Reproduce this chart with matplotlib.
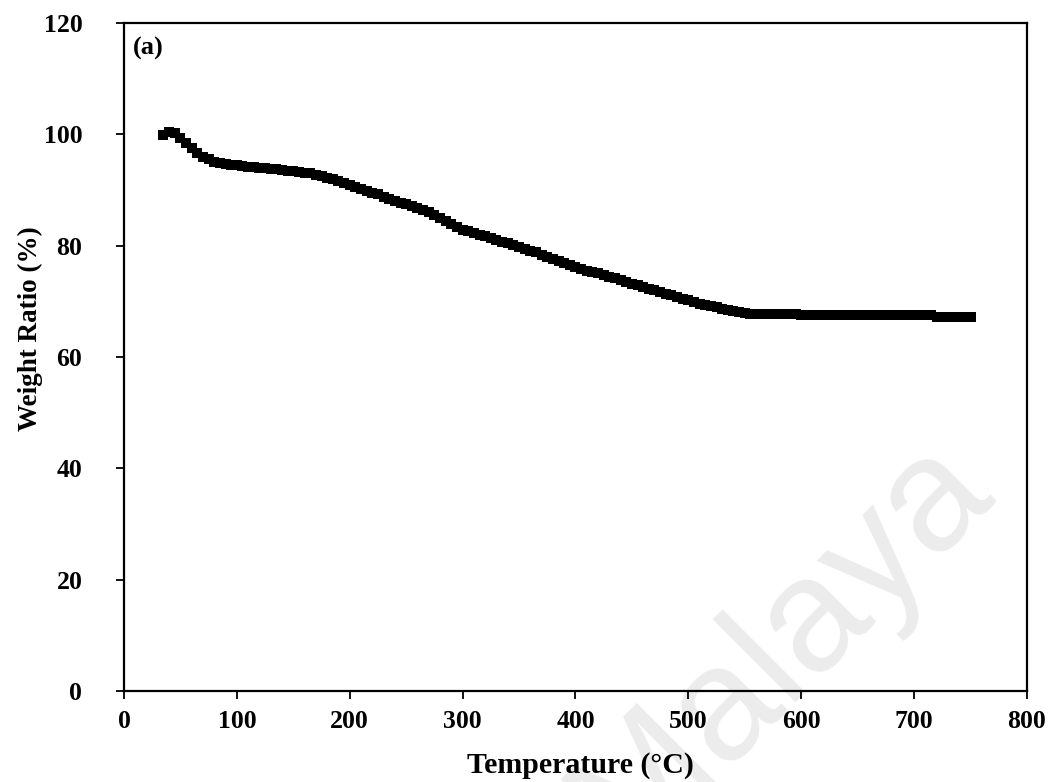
import matplotlib
matplotlib.use("Agg")
import matplotlib.pyplot as plt

# TGA curve: temperature (°C) vs remaining weight (%)
temperature = list(range(35, 751, 5))
weight_ratio = [
    99.8, 100.5, 100.2, 99.3, 98.4, 97.5, 96.6, 96.0, 95.5, 95.1,      # 35-80
    94.9, 94.7, 94.5, 94.4, 94.3, 94.2, 94.1, 94.0, 93.9, 93.8,       # 85-130
    93.7, 93.6, 93.5, 93.4, 93.2, 93.1, 93.0, 92.7, 92.5, 92.2,       # 135-180
    92.0, 91.6, 91.2, 90.9, 90.5, 90.2, 89.8, 89.5, 89.2, 88.8,       # 185-230
    88.4, 88.1, 87.7, 87.4, 87.1, 86.8, 86.4, 86.0, 85.5, 84.9,       # 235-280
    84.4, 83.9, 83.4, 82.9, 82.6, 82.3, 82.0, 81.7, 81.4, 81.0,       # 285-330
    80.7, 80.4, 80.1, 79.8, 79.4, 79.1, 78.8, 78.3, 77.9, 77.6,       # 335-380
    77.2, 76.8, 76.5, 76.1, 75.8, 75.5, 75.2, 75.0, 74.7, 74.4,       # 385-430
    74.1, 73.8, 73.5, 73.2, 72.9, 72.6, 72.3, 72.0, 71.7, 71.4,       # 435-480
    71.1, 70.8, 70.5, 70.2, 69.9, 69.6, 69.4, 69.1, 68.9, 68.6,       # 485-530
    68.4, 68.2, 68.0, 67.9, 67.8, 67.8, 67.8, 67.8, 67.8, 67.8,       # 535-580
    67.8, 67.8, 67.8, 67.5, 67.5, 67.5, 67.5, 67.5, 67.5, 67.5,       # 585-630
    67.5, 67.5, 67.5, 67.5, 67.5, 67.5, 67.5, 67.5, 67.5, 67.5,       # 635-680
    67.5, 67.5, 67.5, 67.5, 67.5, 67.5, 67.5, 67.2, 67.2, 67.2,       # 685-730
    67.2, 67.2, 67.2, 67.2,                                           # 735-750
]
x_ticks = [0, 100, 200, 300, 400, 500, 600, 700, 800]
y_ticks = [0, 20, 40, 60, 80, 100, 120]

serif = ["Liberation Serif", "DejaVu Serif"]
plt.rcParams["font.family"] = serif

fig = plt.figure(figsize=(10.56, 7.82), dpi=100)
ax = fig.add_axes([0.1174, 0.1164, 0.8551, 0.8542])
ax.set_facecolor("none")

# faint watermark behind everything
fig.text(0.74, 0.175, "Malaya", family=["Liberation Sans", "DejaVu Sans"],
         fontsize=116, color="#ececec", rotation=45, ha="center", va="center",
         zorder=-5)

ax.plot(temperature, weight_ratio, "s", ms=7.4, color="black", mew=0)

ax.set_xlim(0, 800)
ax.set_ylim(0, 120)
ax.set_xticks(x_ticks)
ax.set_yticks(y_ticks)
ax.tick_params(direction="out", length=6, width=1.3, labelsize=18.5)
ax.tick_params(axis="y", pad=24)
ax.tick_params(axis="x", pad=8)
for lab in ax.get_xticklabels() + ax.get_yticklabels():
    lab.set_fontweight("bold")
for sp in ax.spines.values():
    sp.set_linewidth(1.6)

ax.set_xlabel("Temperature (\u00b0C)", fontsize=21.5, fontweight="bold")
ax.set_ylabel("Weight Ratio (%)", fontsize=19.5, fontweight="bold")
ax.xaxis.set_label_coords(0.505, -0.092)
ax.yaxis.set_label_coords(-0.090, 0.543)

ax.text(0.01, 0.979, "(a)", transform=ax.transAxes, fontsize=19,
        fontweight="bold", ha="left", va="top")

fig.savefig("out.png", dpi=100)
